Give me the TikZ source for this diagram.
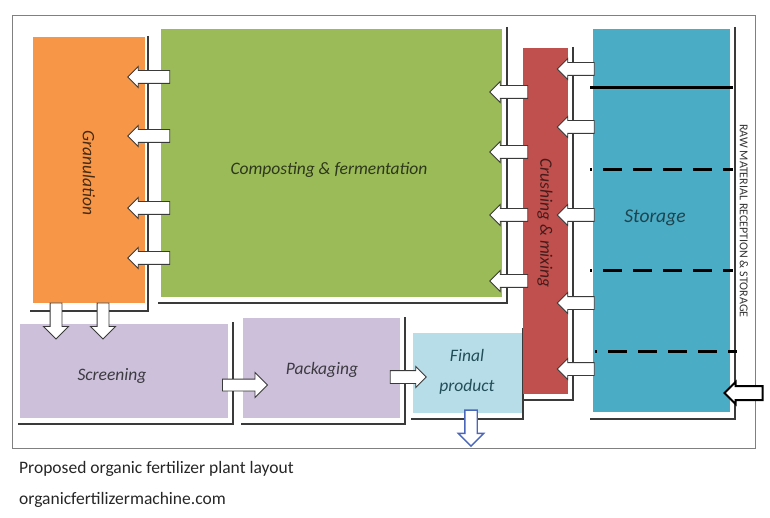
\documentclass[tikz,border=0pt]{standalone}
\usepackage{fontspec}
\setmainfont{Carlito}
\usetikzlibrary{shapes.arrows}
\definecolor{cOrange}{HTML}{F79646}
\definecolor{cGreen}{HTML}{9BBB59}
\definecolor{cRed}{HTML}{C0504D}
\definecolor{cBlue}{HTML}{4BACC6}
\definecolor{cPurple}{HTML}{CCC0DA}
\definecolor{cLight}{HTML}{B7DEE8}
\definecolor{cShadow}{HTML}{3A3A3A}
\begin{document}
\begin{tikzpicture}[x=1pt,y=-1pt,
  area/.style={draw=none,inner sep=0pt},
  shline/.style={draw=cShadow,line width=1.4pt},
  lbl/.style={font=\itshape\fontsize{17.5}{19}\selectfont,inner sep=0pt},
  barrow/.style={single arrow,draw=cShadow,fill=white,line width=0.9pt,inner sep=6pt,
     single arrow head extend=4pt,minimum height=#1},
  bigarrow/.style={single arrow,draw=cShadow,fill=white,line width=0.9pt,inner sep=5.5pt,
     single arrow head extend=6.5pt,minimum height=#1},
  thickline/.style={line width=3pt,black},
  dashline/.style={line width=3pt,black,dash pattern=on 19pt off 11pt,dash phase=17pt}
]
\useasboundingbox (0,0) rectangle (770,518);
% outer frame
\draw[draw=gray,line width=1pt] (12,16) rectangle (755,448);

% shadow lines
\draw[shline] (148,36) -- (148,311) -- (30,311);
\draw[shline] (507,27) -- (507,303) -- (158,303);
\draw[shline] (573,47) -- (573,400) -- (523,400);
\draw[shline] (735,27) -- (735,419) -- (590,419);
\draw[shline] (233,322) -- (233,424) -- (18,424);
\draw[shline] (405,317) -- (405,424) -- (241,424);
\draw[shline] (523,328) -- (523,419) -- (411,419);

% areas
\node[area,fill=cOrange,minimum width=112pt,minimum height=266pt] (gran) at (89,170) {};
\node[area,fill=cGreen,minimum width=341pt,minimum height=268pt] (comp) at (331.5,163) {};
\node[area,fill=cRed,minimum width=45pt,minimum height=346pt] (crush) at (545.5,221) {};
\node[area,fill=cBlue,minimum width=137pt,minimum height=383pt] (stor) at (661.5,220.5) {};
\node[area,fill=cPurple,minimum width=208pt,minimum height=94pt] (scr) at (124,371) {};
\node[area,fill=cPurple,minimum width=157pt,minimum height=100pt] (pack) at (321.5,368) {};
\node[area,fill=cLight,minimum width=109pt,minimum height=80pt] (fin) at (467.5,373) {};

% storage partitions
\draw[thickline] (590,88) -- (733,88);
\draw[dashline] (590,170) -- (733,170);
\draw[dashline] (590,271) -- (733,271);
\draw[dashline] (595,351) -- (737,351);

% labels
\node[lbl,rotate=-90,text=black!60!cOrange!70!black] (granl) at (89,173) {Granulation};
\node[lbl,text=black!70!cGreen] (compl) at (329,170) {Composting \& fermentation};
\node[lbl,rotate=-90,text=black!65!cRed] (crushl) at (545,223) {Crushing \& mixing};
\node[lbl,font=\itshape\fontsize{19.5}{21}\selectfont,text=black!60!cBlue] (storl) at (655,218) {Storage};
\node[lbl,text=black!70!cPurple] (scrl) at (112,376) {Screening};
\node[lbl,text=black!70!cPurple] (packl) at (322,370) {Packaging};
\node[lbl,text=black!55!cBlue,align=center,font=\itshape\fontsize{17.5}{30}\selectfont] (finl) at (467,372) {Final\\product};
\node[inner sep=0pt,rotate=-90,font=\fontsize{12}{13}\selectfont,text=black!80] (rawl) at (744,221) {RAW MATERIAL RECEPTION \& STORAGE};

% block arrows: composting -> granulation
\foreach \y/\n in {77/a1,136/a2,208/a3,258/a4}
  \node[barrow=42pt,shape border rotate=180] (\n) at (152,\y) {};
% crushing -> composting
\foreach \y/\n in {92/b1,152/b2,215/b3,281/b4}
  \node[barrow=38pt,shape border rotate=180] (\n) at (512,\y) {};
% storage -> crushing
\foreach \y/\n in {69/c1,127/c2,215/c3,303/c4,369/c5}
  \node[barrow=37pt,shape border rotate=180] (\n) at (579,\y) {};
% granulation -> screening
\node[bigarrow=36pt,shape border rotate=270] (d1) at (56,318) {};
\node[bigarrow=36pt,shape border rotate=270] (d2) at (103,318) {};
% screening -> packaging
\node[bigarrow=45pt] (e1) at (242,385) {};
% packaging -> final
\node[barrow=36pt] (e2) at (405,377) {};
% final product out
\node[bigarrow=36pt,shape border rotate=270,draw=cBlue!50!blue!60!gray,line width=1.4pt] (out) at (471,425) {};
% raw material in
\node[barrow=38pt,shape border rotate=180,draw=black,line width=2pt] (raw) at (747,393) {};

% caption
\node[anchor=west,inner sep=0pt,font=\fontsize{17.5}{19}\selectfont,text=black!85] (cap1) at (19,469) {Proposed organic fertilizer plant layout};
\node[anchor=west,inner sep=0pt,font=\fontsize{17.5}{19}\selectfont,text=black!85] (cap2) at (19,500) {organicfertilizermachine.com};
\end{tikzpicture}
\end{document}
